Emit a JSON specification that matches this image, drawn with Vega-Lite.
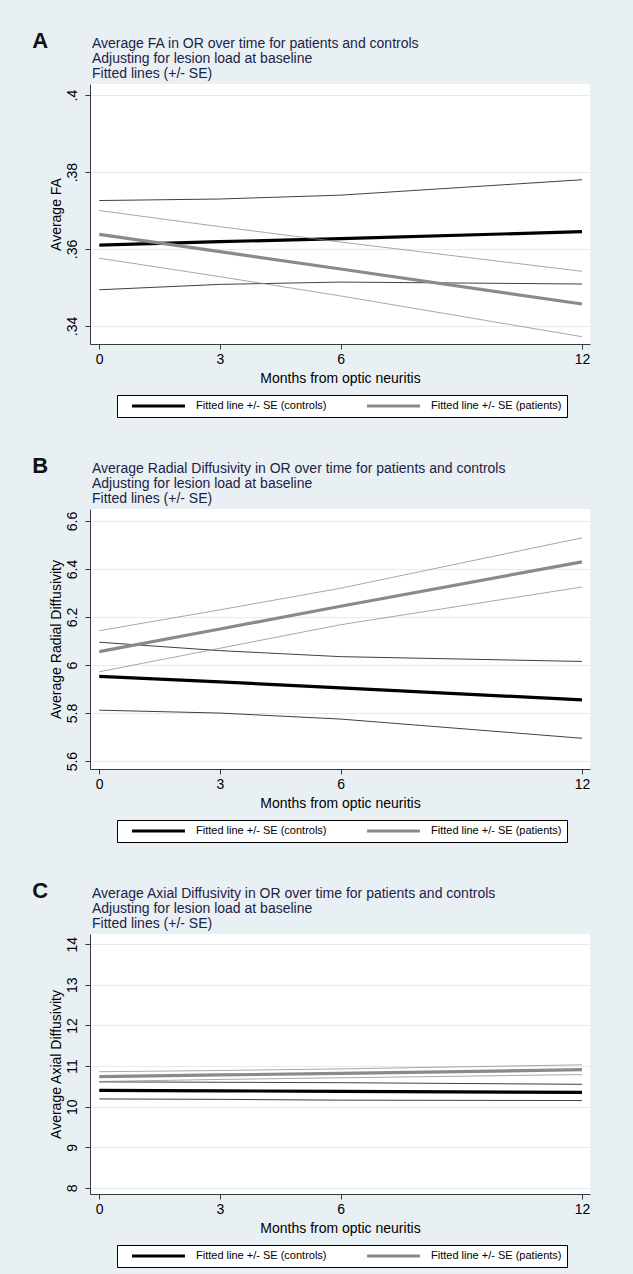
{
  "$schema": "https://vega.github.io/schema/vega-lite/v6.json",
  "background": "#e9f0f3",
  "padding": {"left": 32, "top": 30, "right": 43, "bottom": 10},
  "datasets": {
    "A": [
      {"month": 0, "value": 0.3610, "group": "Fitted line +/- SE (controls)", "series": "controls fit", "kind": "fit"},
      {"month": 3, "value": 0.3619, "group": "Fitted line +/- SE (controls)", "series": "controls fit", "kind": "fit"},
      {"month": 6, "value": 0.3627, "group": "Fitted line +/- SE (controls)", "series": "controls fit", "kind": "fit"},
      {"month": 12, "value": 0.3645, "group": "Fitted line +/- SE (controls)", "series": "controls fit", "kind": "fit"},
      {"month": 0, "value": 0.3726, "group": "Fitted line +/- SE (controls)", "series": "controls upper", "kind": "se"},
      {"month": 3, "value": 0.3730, "group": "Fitted line +/- SE (controls)", "series": "controls upper", "kind": "se"},
      {"month": 6, "value": 0.3740, "group": "Fitted line +/- SE (controls)", "series": "controls upper", "kind": "se"},
      {"month": 12, "value": 0.3780, "group": "Fitted line +/- SE (controls)", "series": "controls upper", "kind": "se"},
      {"month": 0, "value": 0.3494, "group": "Fitted line +/- SE (controls)", "series": "controls lower", "kind": "se"},
      {"month": 3, "value": 0.3508, "group": "Fitted line +/- SE (controls)", "series": "controls lower", "kind": "se"},
      {"month": 6, "value": 0.3514, "group": "Fitted line +/- SE (controls)", "series": "controls lower", "kind": "se"},
      {"month": 12, "value": 0.3509, "group": "Fitted line +/- SE (controls)", "series": "controls lower", "kind": "se"},
      {"month": 0, "value": 0.3638, "group": "Fitted line +/- SE (patients)", "series": "patients fit", "kind": "fit"},
      {"month": 3, "value": 0.3593, "group": "Fitted line +/- SE (patients)", "series": "patients fit", "kind": "fit"},
      {"month": 6, "value": 0.3548, "group": "Fitted line +/- SE (patients)", "series": "patients fit", "kind": "fit"},
      {"month": 12, "value": 0.3457, "group": "Fitted line +/- SE (patients)", "series": "patients fit", "kind": "fit"},
      {"month": 0, "value": 0.3700, "group": "Fitted line +/- SE (patients)", "series": "patients upper", "kind": "se"},
      {"month": 3, "value": 0.3658, "group": "Fitted line +/- SE (patients)", "series": "patients upper", "kind": "se"},
      {"month": 6, "value": 0.3618, "group": "Fitted line +/- SE (patients)", "series": "patients upper", "kind": "se"},
      {"month": 12, "value": 0.3542, "group": "Fitted line +/- SE (patients)", "series": "patients upper", "kind": "se"},
      {"month": 0, "value": 0.3576, "group": "Fitted line +/- SE (patients)", "series": "patients lower", "kind": "se"},
      {"month": 3, "value": 0.3528, "group": "Fitted line +/- SE (patients)", "series": "patients lower", "kind": "se"},
      {"month": 6, "value": 0.3478, "group": "Fitted line +/- SE (patients)", "series": "patients lower", "kind": "se"},
      {"month": 12, "value": 0.3372, "group": "Fitted line +/- SE (patients)", "series": "patients lower", "kind": "se"}
    ],
    "B": [
      {"month": 0, "value": 5.953, "group": "Fitted line +/- SE (controls)", "series": "controls fit", "kind": "fit"},
      {"month": 3, "value": 5.930, "group": "Fitted line +/- SE (controls)", "series": "controls fit", "kind": "fit"},
      {"month": 6, "value": 5.905, "group": "Fitted line +/- SE (controls)", "series": "controls fit", "kind": "fit"},
      {"month": 12, "value": 5.855, "group": "Fitted line +/- SE (controls)", "series": "controls fit", "kind": "fit"},
      {"month": 0, "value": 6.095, "group": "Fitted line +/- SE (controls)", "series": "controls upper", "kind": "se"},
      {"month": 3, "value": 6.060, "group": "Fitted line +/- SE (controls)", "series": "controls upper", "kind": "se"},
      {"month": 6, "value": 6.035, "group": "Fitted line +/- SE (controls)", "series": "controls upper", "kind": "se"},
      {"month": 12, "value": 6.015, "group": "Fitted line +/- SE (controls)", "series": "controls upper", "kind": "se"},
      {"month": 0, "value": 5.812, "group": "Fitted line +/- SE (controls)", "series": "controls lower", "kind": "se"},
      {"month": 3, "value": 5.800, "group": "Fitted line +/- SE (controls)", "series": "controls lower", "kind": "se"},
      {"month": 6, "value": 5.775, "group": "Fitted line +/- SE (controls)", "series": "controls lower", "kind": "se"},
      {"month": 12, "value": 5.695, "group": "Fitted line +/- SE (controls)", "series": "controls lower", "kind": "se"},
      {"month": 0, "value": 6.056, "group": "Fitted line +/- SE (patients)", "series": "patients fit", "kind": "fit"},
      {"month": 3, "value": 6.150, "group": "Fitted line +/- SE (patients)", "series": "patients fit", "kind": "fit"},
      {"month": 6, "value": 6.245, "group": "Fitted line +/- SE (patients)", "series": "patients fit", "kind": "fit"},
      {"month": 12, "value": 6.430, "group": "Fitted line +/- SE (patients)", "series": "patients fit", "kind": "fit"},
      {"month": 0, "value": 6.143, "group": "Fitted line +/- SE (patients)", "series": "patients upper", "kind": "se"},
      {"month": 3, "value": 6.230, "group": "Fitted line +/- SE (patients)", "series": "patients upper", "kind": "se"},
      {"month": 6, "value": 6.320, "group": "Fitted line +/- SE (patients)", "series": "patients upper", "kind": "se"},
      {"month": 12, "value": 6.530, "group": "Fitted line +/- SE (patients)", "series": "patients upper", "kind": "se"},
      {"month": 0, "value": 5.972, "group": "Fitted line +/- SE (patients)", "series": "patients lower", "kind": "se"},
      {"month": 3, "value": 6.070, "group": "Fitted line +/- SE (patients)", "series": "patients lower", "kind": "se"},
      {"month": 6, "value": 6.168, "group": "Fitted line +/- SE (patients)", "series": "patients lower", "kind": "se"},
      {"month": 12, "value": 6.325, "group": "Fitted line +/- SE (patients)", "series": "patients lower", "kind": "se"}
    ],
    "C": [
      {"month": 0, "value": 10.40, "group": "Fitted line +/- SE (controls)", "series": "controls fit", "kind": "fit"},
      {"month": 3, "value": 10.39, "group": "Fitted line +/- SE (controls)", "series": "controls fit", "kind": "fit"},
      {"month": 6, "value": 10.375, "group": "Fitted line +/- SE (controls)", "series": "controls fit", "kind": "fit"},
      {"month": 12, "value": 10.35, "group": "Fitted line +/- SE (controls)", "series": "controls fit", "kind": "fit"},
      {"month": 0, "value": 10.61, "group": "Fitted line +/- SE (controls)", "series": "controls upper", "kind": "se"},
      {"month": 3, "value": 10.60, "group": "Fitted line +/- SE (controls)", "series": "controls upper", "kind": "se"},
      {"month": 6, "value": 10.59, "group": "Fitted line +/- SE (controls)", "series": "controls upper", "kind": "se"},
      {"month": 12, "value": 10.55, "group": "Fitted line +/- SE (controls)", "series": "controls upper", "kind": "se"},
      {"month": 0, "value": 10.19, "group": "Fitted line +/- SE (controls)", "series": "controls lower", "kind": "se"},
      {"month": 3, "value": 10.18, "group": "Fitted line +/- SE (controls)", "series": "controls lower", "kind": "se"},
      {"month": 6, "value": 10.16, "group": "Fitted line +/- SE (controls)", "series": "controls lower", "kind": "se"},
      {"month": 12, "value": 10.15, "group": "Fitted line +/- SE (controls)", "series": "controls lower", "kind": "se"},
      {"month": 0, "value": 10.74, "group": "Fitted line +/- SE (patients)", "series": "patients fit", "kind": "fit"},
      {"month": 3, "value": 10.78, "group": "Fitted line +/- SE (patients)", "series": "patients fit", "kind": "fit"},
      {"month": 6, "value": 10.82, "group": "Fitted line +/- SE (patients)", "series": "patients fit", "kind": "fit"},
      {"month": 12, "value": 10.91, "group": "Fitted line +/- SE (patients)", "series": "patients fit", "kind": "fit"},
      {"month": 0, "value": 10.86, "group": "Fitted line +/- SE (patients)", "series": "patients upper", "kind": "se"},
      {"month": 3, "value": 10.89, "group": "Fitted line +/- SE (patients)", "series": "patients upper", "kind": "se"},
      {"month": 6, "value": 10.93, "group": "Fitted line +/- SE (patients)", "series": "patients upper", "kind": "se"},
      {"month": 12, "value": 11.03, "group": "Fitted line +/- SE (patients)", "series": "patients upper", "kind": "se"},
      {"month": 0, "value": 10.62, "group": "Fitted line +/- SE (patients)", "series": "patients lower", "kind": "se"},
      {"month": 3, "value": 10.67, "group": "Fitted line +/- SE (patients)", "series": "patients lower", "kind": "se"},
      {"month": 6, "value": 10.71, "group": "Fitted line +/- SE (patients)", "series": "patients lower", "kind": "se"},
      {"month": 12, "value": 10.79, "group": "Fitted line +/- SE (patients)", "series": "patients lower", "kind": "se"}
    ]
  },
  "spacing": 37,
  "resolve": {"scale": {"color": "independent", "strokeWidth": "independent", "opacity": "independent"}, "legend": {"color": "independent"}},
  "vconcat": [
    {
      "title": {"text": "A", "orient": "left", "anchor": "end", "angle": 0, "align": "right", "baseline": "top", "fontSize": 22, "fontWeight": "bold", "color": "#111111", "offset": -15, "dy": -6},
      "resolve": {"scale": {"color": "independent", "strokeWidth": "independent", "opacity": "independent"}, "legend": {"color": "independent"}},
      "vconcat": [
        {
          "data": {"name": "A"},
          "width": 500,
          "height": 260,
          "title": {"text": ["Average FA in OR over time for patients and controls", "Adjusting for lesion load at baseline", "Fitted lines (+/- SE)"], "anchor": "start", "frame": "group", "fontSize": 14, "fontWeight": "normal", "color": "#1d2247", "lineHeight": 15, "offset": 3, "dx": 2},
          "mark": {"type": "line"},
          "encoding": {
            "x": {"field": "month", "type": "quantitative", "scale": {"domain": [-0.23, 12.2], "nice": false, "zero": false}, "axis": {"values": [0, 3, 6, 12], "title": "Months from optic neuritis"}},
            "y": {"field": "value", "type": "quantitative", "scale": {"domain": [0.3353, 0.4029], "nice": false, "zero": false}, "axis": {"values": [0.34, 0.36, 0.38, 0.4], "labelExpr": "substring(format(datum.value, '.2~f'), 1)", "title": "Average FA"}},
            "color": {"field": "group", "type": "nominal", "scale": {"domain": ["Fitted line +/- SE (controls)", "Fitted line +/- SE (patients)"], "range": ["#000000", "#8a8a8a"]}, "legend": {"orient": "none", "legendX": 27, "legendY": 311}},
            "detail": {"field": "series", "type": "nominal"},
            "strokeWidth": {"field": "kind", "type": "nominal", "scale": {"domain": ["fit", "se"], "range": [3.2, 1]}, "legend": null},
            "opacity": {"field": "kind", "type": "nominal", "scale": {"domain": ["fit", "se"], "range": [1, 0.75]}, "legend": null}
          }
        }
      ]
    },
    {
      "title": {"text": "B", "orient": "left", "anchor": "end", "angle": 0, "align": "right", "baseline": "top", "fontSize": 22, "fontWeight": "bold", "color": "#111111", "offset": -15, "dy": -6},
      "resolve": {"scale": {"color": "independent", "strokeWidth": "independent", "opacity": "independent"}, "legend": {"color": "independent"}},
      "vconcat": [
        {
          "data": {"name": "B"},
          "width": 500,
          "height": 260,
          "title": {"text": ["Average Radial Diffusivity in OR over time for patients and controls", "Adjusting for lesion load at baseline", "Fitted lines (+/- SE)"], "anchor": "start", "frame": "group", "fontSize": 14, "fontWeight": "normal", "color": "#1d2247", "lineHeight": 15, "offset": 3, "dx": 2},
          "mark": {"type": "line"},
          "encoding": {
            "x": {"field": "month", "type": "quantitative", "scale": {"domain": [-0.23, 12.2], "nice": false, "zero": false}, "axis": {"values": [0, 3, 6, 12], "title": "Months from optic neuritis"}},
            "y": {"field": "value", "type": "quantitative", "scale": {"domain": [5.567, 6.65], "nice": false, "zero": false}, "axis": {"values": [5.6, 5.8, 6, 6.2, 6.4, 6.6], "format": ".1~f", "title": "Average Radial Diffusivity"}},
            "color": {"field": "group", "type": "nominal", "scale": {"domain": ["Fitted line +/- SE (controls)", "Fitted line +/- SE (patients)"], "range": ["#000000", "#8a8a8a"]}, "legend": {"orient": "none", "legendX": 27, "legendY": 311}},
            "detail": {"field": "series", "type": "nominal"},
            "strokeWidth": {"field": "kind", "type": "nominal", "scale": {"domain": ["fit", "se"], "range": [3.2, 1]}, "legend": null},
            "opacity": {"field": "kind", "type": "nominal", "scale": {"domain": ["fit", "se"], "range": [1, 0.75]}, "legend": null}
          }
        }
      ]
    },
    {
      "title": {"text": "C", "orient": "left", "anchor": "end", "angle": 0, "align": "right", "baseline": "top", "fontSize": 22, "fontWeight": "bold", "color": "#111111", "offset": -15, "dy": -6},
      "resolve": {"scale": {"color": "independent", "strokeWidth": "independent", "opacity": "independent"}, "legend": {"color": "independent"}},
      "vconcat": [
        {
          "data": {"name": "C"},
          "width": 500,
          "height": 260,
          "title": {"text": ["Average Axial Diffusivity in OR over time for patients and controls", "Adjusting for lesion load at baseline", "Fitted lines (+/- SE)"], "anchor": "start", "frame": "group", "fontSize": 14, "fontWeight": "normal", "color": "#1d2247", "lineHeight": 15, "offset": 3, "dx": 2},
          "mark": {"type": "line"},
          "encoding": {
            "x": {"field": "month", "type": "quantitative", "scale": {"domain": [-0.23, 12.2], "nice": false, "zero": false}, "axis": {"values": [0, 3, 6, 12], "title": "Months from optic neuritis"}},
            "y": {"field": "value", "type": "quantitative", "scale": {"domain": [7.85, 14.25], "nice": false, "zero": false}, "axis": {"values": [8, 9, 10, 11, 12, 13, 14], "format": "d", "title": "Average Axial Diffusivity"}},
            "color": {"field": "group", "type": "nominal", "scale": {"domain": ["Fitted line +/- SE (controls)", "Fitted line +/- SE (patients)"], "range": ["#000000", "#8a8a8a"]}, "legend": {"orient": "none", "legendX": 27, "legendY": 311}},
            "detail": {"field": "series", "type": "nominal"},
            "strokeWidth": {"field": "kind", "type": "nominal", "scale": {"domain": ["fit", "se"], "range": [3.2, 1]}, "legend": null},
            "opacity": {"field": "kind", "type": "nominal", "scale": {"domain": ["fit", "se"], "range": [1, 0.75]}, "legend": null}
          }
        }
      ]
    }
  ],
  "config": {
    "font": "Liberation Sans",
    "view": {"fill": "#ffffff", "stroke": null},
    "axis": {"labelFont": "Liberation Sans", "labelFontSize": 14, "labelColor": "#000000", "titleFont": "Liberation Sans", "titleFontSize": 14, "titleFontWeight": "normal", "titleColor": "#000000", "domainColor": "#3a3a3a", "tickColor": "#3a3a3a", "tickSize": 5, "gridColor": "#e4ecef", "gridWidth": 1, "labelFlush": false},
    "axisY": {"labelAngle": -90, "labelPadding": 6, "titlePadding": 2, "grid": true},
    "axisX": {"grid": false, "labelPadding": 3, "titlePadding": 5},
    "legend": {"title": null, "direction": "horizontal", "symbolType": "stroke", "symbolSize": 2800, "symbolStrokeWidth": 3.2, "clipHeight": 12, "labelFont": "Liberation Sans", "labelFontSize": 11, "labelColor": "#000000", "labelOffset": 9, "columnPadding": 30, "padding": 5, "symbolOffset": 8, "fillColor": "#ffffff", "strokeColor": "#000000", "labelLimit": 300},
    "title": {"font": "Liberation Sans"}
  }
}
